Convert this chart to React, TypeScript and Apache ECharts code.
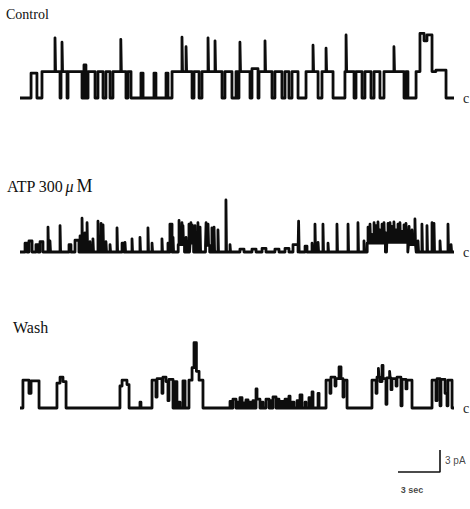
import React, { useEffect, useRef } from "react";
import * as echarts from "echarts";

// Recording length (s) shared by the three traces
const DURATION = 31;

// Channel openings: [start s, end s, current pA]. Adjacent entries switch level directly.
const controlEvents: number[][] = [
  [0.79, 1.21, 3.4], [1.57, 2.86, 3.6], [2.93, 3.36, 3.6], [3.43, 4.43, 3.6],
  [4.57, 4.71, 4.5], [4.86, 5.36, 3.6], [5.57, 5.93, 3.6], [6.14, 6.43, 3.6],
  [6.64, 7.57, 3.6], [7.71, 7.93, 3.6], [8.64, 8.79, 3.4], [9.57, 9.71, 3.4],
  [10.43, 10.57, 3.4], [10.86, 12.29, 3.6], [12.43, 12.79, 3.6], [13.0, 14.43, 3.6],
  [14.64, 15.14, 3.6], [15.43, 15.57, 3.6], [15.64, 16.43, 3.6], [16.57, 17.0, 4.0],
  [17.07, 18.0, 3.6], [18.21, 18.71, 3.6], [18.93, 19.21, 3.6], [19.43, 19.86, 3.6],
  [20.43, 21.29, 3.6], [21.57, 22.36, 3.6], [23.21, 23.86, 3.6], [24.0, 24.43, 3.6],
  [24.64, 25.07, 3.6], [25.29, 25.71, 3.6], [26.0, 27.43, 3.6], [27.57, 27.71, 3.6],
  [28.29, 28.57, 3.6], [28.57, 28.86, 8.8], [28.86, 29.07, 7.8], [29.07, 29.43, 8.6],
  [29.43, 29.71, 3.6], [29.71, 30.43, 3.8],
];
// Brief excursions: [time s, peak pA]
const controlSpikes: number[][] = [
  [2.5, 8.2], [3.0, 7.6], [7.2, 8.0], [11.57, 8.3], [11.86, 7.0], [13.43, 8.2],
  [13.93, 7.8], [15.71, 7.6], [17.5, 7.8], [20.93, 7.2], [21.86, 6.8], [23.29, 8.6],
  [26.71, 7.0],
];

const atpEvents: number[][] = [
  [0.36, 0.5, 1.2], [0.64, 0.86, 1.5], [1.14, 1.29, 1.0], [1.43, 1.64, 1.4],
  [3.5, 3.64, 1.0], [3.93, 4.21, 1.6], [7.29, 7.43, 1.2], [10.71, 10.86, 3.8],
  [11.3, 11.75, 1.0], [12.15, 12.4, 1.2], [13.25, 13.55, 0.9],
  [15.71, 16.0, 0.4], [16.57, 16.86, 0.4], [17.29, 17.57, 0.5], [18.21, 18.5, 0.4],
  [18.93, 19.21, 0.5], [19.5, 19.86, 1.0], [20.36, 20.5, 0.8],
  [24.8, 26.1, 1.2], [26.2, 27.7, 1.3], [27.75, 28.3, 1.0],
];
const atpSpikes: number[][] = [
  [2.0, 3.4], [2.14, 1.5], [2.86, 3.6], [4.29, 2.2], [4.43, 4.6], [4.64, 2.6],
  [4.79, 4.0], [5.0, 1.4], [5.21, 1.8], [5.57, 4.2], [5.79, 3.9], [5.93, 3.7],
  [6.14, 1.4], [6.43, 1.0], [6.93, 3.3], [7.5, 1.3], [8.0, 1.8], [8.57, 2.0],
  [9.14, 3.3], [9.43, 1.2], [10.14, 1.8], [10.57, 1.2], [10.93, 2.0], [11.36, 4.3],
  [11.45, 3.0], [11.57, 4.0], [11.64, 3.6], [11.86, 2.0], [12.07, 3.8], [12.21, 4.0],
  [12.3, 3.7], [12.5, 3.6], [12.71, 4.0], [12.86, 3.4], [13.29, 4.0], [13.43, 3.8],
  [13.71, 3.3], [13.86, 3.4], [14.14, 3.0], [14.71, 7.1], [15.0, 1.0], [19.9, 4.2],
  [20.86, 1.2], [21.07, 3.8], [21.29, 1.3], [21.64, 3.8], [22.0, 1.2], [22.64, 3.8],
  [23.43, 3.8], [24.14, 4.0], [24.57, 1.5],
  [24.86, 3.4], [25.0, 3.8], [25.14, 2.4], [25.29, 4.0], [25.43, 3.6], [25.57, 4.1],
  [25.71, 3.0], [25.86, 3.8], [26.0, 4.0], [26.14, 2.6], [26.29, 3.9], [26.43, 4.0],
  [26.57, 3.5], [26.71, 4.1], [26.86, 3.0], [27.0, 3.8], [27.14, 4.0], [27.29, 2.8],
  [27.43, 3.7], [27.57, 3.9], [27.79, 3.5], [28.0, 3.0], [28.21, 4.5],
  [28.43, 1.5], [28.71, 3.8], [29.07, 3.6], [29.43, 4.0], [29.57, 3.9], [30.0, 1.5],
  [30.57, 3.8], [30.79, 1.0],
];

const washEvents: number[][] = [
  [0.21, 0.64, 3.8], [0.64, 0.79, 2.0], [0.79, 1.36, 3.7],
  [2.64, 2.86, 3.4], [2.86, 3.07, 4.2], [3.07, 3.29, 3.6],
  [7.14, 7.29, 3.0], [7.29, 7.64, 3.8], [7.64, 7.79, 3.2], [8.57, 8.64, 0.8],
  [9.43, 9.71, 3.8], [9.71, 9.79, 1.5], [9.79, 10.14, 4.0], [10.14, 10.21, 2.0],
  [10.21, 10.43, 4.2], [10.43, 10.57, 3.6], [10.57, 10.64, 1.0], [10.64, 10.93, 3.9],
  [11.07, 11.21, 3.6], [11.29, 11.43, 0.8], [11.64, 11.79, 3.7],
  [12.07, 12.29, 3.8], [12.29, 12.43, 5.5], [12.43, 12.6, 8.9], [12.6, 12.79, 5.0],
  [12.79, 13.07, 3.8],
  [15.0, 15.14, 0.9], [15.21, 15.43, 1.2], [15.5, 15.64, 0.8], [15.71, 15.86, 1.4],
  [15.93, 16.0, 0.7], [16.14, 16.29, 1.1], [16.43, 16.5, 0.8], [16.64, 16.71, 1.0],
  [16.86, 16.93, 2.6], [16.93, 17.14, 1.2], [17.29, 17.36, 0.8], [17.57, 17.79, 1.2],
  [17.86, 18.0, 1.0], [18.07, 18.29, 1.5], [18.36, 18.5, 1.2], [18.64, 18.79, 0.9],
  [18.93, 19.07, 1.2], [19.21, 19.29, 1.6], [19.43, 19.57, 0.8], [19.79, 19.86, 1.0],
  [20.0, 20.14, 1.8], [20.36, 20.43, 0.8], [20.64, 20.71, 1.4], [20.86, 20.93, 2.2],
  [21.29, 21.36, 2.0],
  [21.86, 22.14, 3.8], [22.14, 22.21, 2.0], [22.21, 22.5, 4.2], [22.5, 22.57, 3.0],
  [22.57, 22.79, 4.0], [22.79, 22.93, 5.6], [22.93, 23.07, 4.0], [23.07, 23.14, 1.5],
  [23.14, 23.36, 3.8],
  [25.14, 25.43, 3.8], [25.43, 25.5, 2.0], [25.5, 25.71, 4.2], [25.71, 25.86, 3.6],
  [25.86, 25.93, 5.8], [25.93, 26.14, 4.0], [26.14, 26.21, 0.5], [26.21, 26.5, 4.1],
  [26.5, 26.57, 2.5], [26.57, 26.86, 4.0], [26.86, 26.93, 3.0], [26.93, 27.21, 4.2],
  [27.21, 27.29, 0.3], [27.29, 27.57, 3.9], [27.57, 27.64, 2.6], [27.64, 28.0, 3.8],
  [29.43, 29.71, 3.8], [29.71, 29.79, 1.0], [29.79, 30.0, 4.0], [30.0, 30.07, 0.3],
  [30.07, 30.36, 3.9], [30.36, 30.5, 2.0], [30.5, 30.57, 0.3], [30.57, 30.86, 3.8],
];
const washSpikes: number[][] = [[25.6, 5.4], [26.4, 5.0]];

// Calibration bar: 3 s horizontally, 3 pA vertically
const scaleBar: number[][] = [[27, 0], [30, 0], [30, 3]];
const scaleTimeLabel = "3 sec";
const scaleCurrentLabel = "3 pA";

const SPIKE_WIDTH = 0.04;

// Current level (pA) of the step record at time t
function levelAt(events: number[][], t: number): number {
  for (const [s, e, a] of events) if (t >= s && t < e) return a;
  return 0;
}

// Turn opening intervals plus brief spikes into a step trace around the closed level (0 pA)
function toTrace(events: number[][], spikes: number[][], total: number): number[][] {
  const pts: number[][] = [[0, 0]];
  let prevEnd = -1;
  let open = false;
  for (const [s, e, a] of events) {
    const contiguous = open && Math.abs(s - prevEnd) < 1e-6;
    if (!contiguous) {
      if (open) pts.push([prevEnd, 0]);
      pts.push([s, 0]);
    }
    pts.push([s, a], [e, a]);
    prevEnd = e;
    open = true;
  }
  if (open) pts.push([prevEnd, 0]);
  pts.push([total, 0]);

  for (const [t, amp] of spikes) {
    const base = levelAt(events, t);
    let idx = pts.findIndex((p) => p[0] > t);
    if (idx < 0) idx = pts.length;
    pts.splice(idx, 0, [t, base], [t, amp], [t + SPIKE_WIDTH, amp], [t + SPIKE_WIDTH, base]);
  }
  return pts;
}

const PX_PER_PA = 22 / 3;
const PLOT_LEFT = 20;
const PLOT_WIDTH = 434;

function gridFor(baseY: number, yMin: number, yMax: number) {
  return {
    left: PLOT_LEFT,
    width: PLOT_WIDTH,
    top: baseY - yMax * PX_PER_PA,
    height: (yMax - yMin) * PX_PER_PA,
    containLabel: false,
  };
}

export default function App() {
  const ref = useRef<HTMLDivElement>(null);

  useEffect(() => {
    if (!ref.current) return;
    const chart = echarts.init(ref.current, undefined, { renderer: "svg" });

    const ranges = [
      { base: 98, min: -1.5, max: 10 },
      { base: 252, min: -1.5, max: 8 },
      { base: 408, min: -1.5, max: 10 },
      { base: 472, min: -1, max: 4 },
    ];
    const traces = [
      toTrace(controlEvents, controlSpikes, DURATION),
      toTrace(atpEvents, atpSpikes, DURATION),
      toTrace(washEvents, washSpikes, DURATION),
    ];

    const serif = "'Liberation Serif', 'DejaVu Serif', serif";
    const sans = "'Liberation Sans', Arial, sans-serif";
    const ink = "#0d0d0d";

    const traceSeries = traces.map((data, i) => ({
      type: "line",
      xAxisIndex: i,
      yAxisIndex: i,
      data,
      showSymbol: false,
      symbol: "none",
      silent: true,
      clip: false,
      itemStyle: { color: ink },
      lineStyle: { color: ink, width: 2.8, join: "round" },
      endLabel: {
        show: true,
        formatter: "c",
        distance: 9,
        color: "#222",
        fontFamily: serif,
        fontSize: 14,
      },
    }));

    const titleText = { fontFamily: serif, fontWeight: "normal", color: "#111" };

    const option: any = {
      animation: false,
      backgroundColor: "#ffffff",
      title: [
        { text: "Control", left: 6, top: 7, padding: 0, textStyle: { ...titleText, fontSize: 14 } },
        {
          text: "ATP 300{mu|μ}{m|M}",
          left: 7,
          top: 177,
          padding: 0,
          textStyle: {
            ...titleText,
            fontSize: 16,
            rich: {
              mu: { ...titleText, fontSize: 16, fontStyle: "italic", padding: [0, 0, 0, 2] },
              m: { ...titleText, fontSize: 18, padding: [0, 0, 0, 3] },
            },
          },
        },
        { text: "Wash", left: 13, top: 319, padding: 0, textStyle: { ...titleText, fontSize: 16 } },
      ],
      grid: ranges.map((r) => gridFor(r.base, r.min, r.max)),
      xAxis: ranges.map((_, i) => ({
        type: "value",
        gridIndex: i,
        min: 0,
        max: DURATION,
        show: false,
      })),
      yAxis: ranges.map((r, i) => ({
        type: "value",
        gridIndex: i,
        min: r.min,
        max: r.max,
        show: false,
      })),
      series: [
        ...traceSeries,
        {
          type: "line",
          xAxisIndex: 3,
          yAxisIndex: 3,
          data: scaleBar,
          showSymbol: false,
          symbol: "none",
          silent: true,
          itemStyle: { color: "#111" },
          lineStyle: { color: "#111", width: 1.6 },
        },
        {
          type: "scatter",
          xAxisIndex: 3,
          yAxisIndex: 3,
          symbolSize: 0,
          silent: true,
          data: [
            { value: [30, 1.6], label: { formatter: scaleCurrentLabel, position: "right", distance: 5 } },
            { value: [28.0, 0], label: { formatter: scaleTimeLabel, position: "bottom", distance: 13, fontSize: 9, fontWeight: "bold" } },
          ],
          label: { show: true, color: "#111", fontFamily: sans, fontSize: 10 },
        },
      ],
    };

    chart.setOption(option);
    return () => chart.dispose();
  }, []);

  return (
    <div
      ref={ref}
      style={{ position: "fixed", left: 0, top: 0, width: 470, height: 509, background: "#fff" }}
    />
  );
}
